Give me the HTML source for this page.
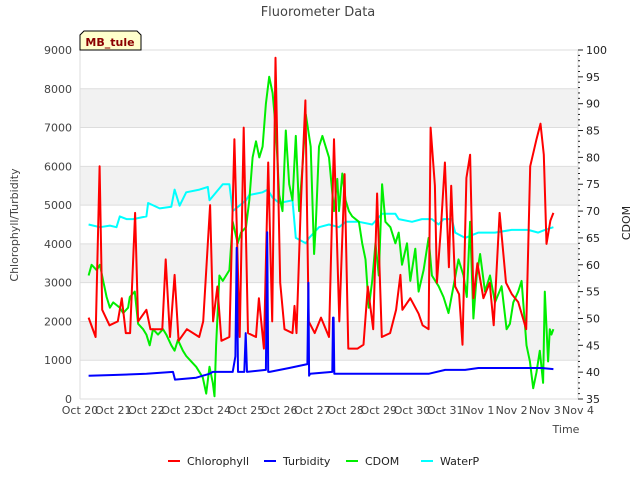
<!DOCTYPE html>
<html><head><meta charset="utf-8"><style>
body{margin:0;background:#fff;font-family:"Liberation Sans","DejaVu Sans",sans-serif}
svg text{font-family:"DejaVu Sans","Liberation Sans",sans-serif}
</style></head><body>
<svg id="c" width="640" height="480">
<text x="318" y="16" text-anchor="middle" font-size="13" fill="#444">Fluorometer Data</text>
<g id="bands"></g><g id="grid"></g><g id="axes"></g><g id="series"></g>
<g><path d="M80,50 L80,35 L84,31 L137,31 L141,35 L141,50 Z" fill="#ffffcc" stroke="#000"/><text x="110" y="46" text-anchor="middle" font-size="11" font-weight="bold" fill="#8b0000">MB_tule</text></g>
<text transform="translate(18,225) rotate(-90)" text-anchor="middle" font-size="11" fill="#444">Chlorophyll/Turbidity</text>
<text transform="translate(630,223) rotate(-90)" text-anchor="middle" font-size="11" fill="#222">CDOM</text>
<text x="566" y="433" text-anchor="middle" font-size="11" fill="#444">Time</text>
<g id="legend"></g>
</svg>
<script>
const dayLabels=["Oct 20","Oct 21","Oct 22","Oct 23","Oct 24","Oct 25","Oct 26","Oct 27","Oct 28","Oct 29","Oct 30","Oct 31","Nov 1","Nov 2","Nov 3","Nov 4"];
const leftTicks=[0,1000,2000,3000,4000,5000,6000,7000,8000,9000];
const rightTicks=[35,40,45,50,55,60,65,70,75,80,85,90,95,100];
const chlT=[0.26,0.47,0.59,0.67,0.89,1.14,1.26,1.38,1.51,1.66,1.75,2.0,2.12,2.48,2.58,2.71,2.85,2.97,3.22,3.59,3.71,3.92,4.01,4.14,4.26,4.5,4.65,4.81,4.93,5.06,5.3,5.39,5.54,5.67,5.79,5.89,6.03,6.16,6.4,6.46,6.52,6.65,6.79,6.89,7.07,7.26,7.5,7.65,7.81,7.97,8.08,8.36,8.54,8.67,8.83,8.95,9.09,9.34,9.52,9.65,9.71,9.95,10.2,10.32,10.5,10.56,10.69,10.75,10.87,10.99,11.11,11.18,11.3,11.42,11.52,11.64,11.75,11.85,11.97,12.15,12.34,12.46,12.64,12.83,13.01,13.2,13.44,13.56,13.75,13.87,13.97,14.05,14.17,14.26];
const chlV=[2100,1600,6000,2300,1900,2000,2600,1700,1700,4800,2000,2300,1800,1800,3600,1600,3200,1500,1800,1600,2000,5000,2000,2900,1500,1600,6700,1600,7000,1700,1600,2600,1300,6100,2000,8800,3000,1800,1700,2400,1700,5000,7700,2000,1700,2100,1600,6700,2000,5800,1300,1300,1400,2900,1800,5300,1600,1700,2300,3200,2300,2600,2200,1900,1800,7000,5500,3000,4400,6100,3400,5500,2900,2700,1400,5700,6300,2600,3500,2600,3000,1900,4800,3000,2700,2500,1800,6000,6700,7100,6300,4000,4600,4800];
const turT=[0.26,1.0,2.0,2.8,2.86,3.5,3.7,3.9,4.0,4.6,4.68,4.72,4.76,4.95,4.99,5.03,5.6,5.64,5.67,5.71,6.3,6.85,6.88,6.9,6.93,7.6,7.62,7.64,7.66,8.5,9.5,10.5,11.0,11.6,12.0,12.6,13.5,13.9,14.26];
const turV=[600,620,650,700,500,550,600,650,700,700,1100,3900,700,700,1700,700,750,4300,700,700,800,900,3000,600,650,700,2100,2100,650,650,650,650,750,750,800,800,800,800,770];
const cdT=[0.26,0.35,0.5,0.6,0.7,0.8,0.9,1.0,1.2,1.3,1.45,1.5,1.65,1.75,1.9,2.0,2.1,2.2,2.35,2.5,2.6,2.75,2.85,2.95,3.1,3.2,3.35,3.5,3.7,3.8,3.9,4.0,4.05,4.1,4.2,4.3,4.5,4.6,4.75,4.85,5.0,5.1,5.2,5.3,5.4,5.5,5.6,5.7,5.8,5.9,6.0,6.1,6.2,6.3,6.4,6.5,6.6,6.7,6.8,6.95,7.05,7.1,7.2,7.3,7.5,7.65,7.75,7.8,7.9,8.0,8.1,8.2,8.4,8.5,8.6,8.7,8.8,8.9,9.0,9.1,9.2,9.35,9.5,9.6,9.7,9.85,9.95,10.1,10.2,10.35,10.5,10.6,10.8,10.95,11.1,11.25,11.4,11.55,11.65,11.75,11.85,11.95,12.05,12.2,12.35,12.5,12.7,12.85,12.95,13.05,13.2,13.3,13.45,13.55,13.65,13.75,13.85,13.95,14.0,14.1,14.15,14.2,14.26];
const cdV=[58,60,59,60,57,54,52,53,52,51,52,54,55,49,48,47,45,48,47,48,47,45,44,46,44,43,42,41,39,36,41,38,35.5,45,58,57,59,68,64,66,67,72,80,83,80,82,90,95,92,85,73,70,85,75,72,84,70,78,88,82,62,67,82,84,80,70,76,70,77,72,70,69,68,64,61,52,57,64,58,75,68,67,64,66,60,64,57,63,55,59,65,58,56,54,51,56,61,58,54,68,50,58,62,55,58,53,56,48,49,53,55,57,45,42,37,40,44,38,55,42,48,47,48];
const wpT=[0.26,0.6,0.9,1.1,1.2,1.4,1.6,2.0,2.05,2.4,2.75,2.85,3.0,3.2,3.6,3.85,3.9,4.3,4.5,4.6,5.0,5.1,5.5,5.65,5.8,6.0,6.4,6.5,6.8,6.9,7.2,7.5,7.8,8.0,8.4,8.8,9.1,9.5,9.6,10.0,10.3,10.6,10.8,10.95,11.2,11.3,11.6,11.8,12.0,12.5,13.0,13.5,13.8,14.0,14.26];
const wpV=[67.5,67,67.3,67,69,68.5,68.5,69,71.5,70.5,70.8,74,71,73.5,74,74.5,72,75,75,70,72,73,73.5,74,72.5,71.5,72,65,64,65,67,67.5,67,68,68,67.5,69.5,69.5,68.5,68,68.5,68.5,67.5,68.5,68.5,66,65,65.5,66,66,66.5,66.5,66,66.5,67];
const NS="http://www.w3.org/2000/svg";
const X0=80,X1=578,Y0=399,Y1=50;
const xs=d=>X0+d*(X1-X0)/15;
const yl=v=>Y0-v*(Y0-Y1)/9000;
const yr=v=>Y0-(v-35)*(Y0-Y1)/65;
function mk(tag,attrs,parent){const e=document.createElementNS(NS,tag);for(const k in attrs)e.setAttribute(k,attrs[k]);document.getElementById(parent).appendChild(e);return e;}
for(let i=1;i<9;i+=2){const r=mk('rect',{x:X0,y:yl(i+1)*1===0?0:yl((i+1)*1000),width:X1-X0,height:yl(i*1000)-yl((i+1)*1000),fill:'#f2f2f2'},'bands');

}
leftTicks.forEach(v=>{const l=mk('line',{x1:X0,x2:X1,y1:yl(v),y2:yl(v),stroke:'#ddd'},'grid');


const t=mk('text',{x:72,y:yl(v)+4,'text-anchor':'end','font-size':11,fill:'#444'},'axes');t.textContent=v;

});
mk('line',{x1:X0,x2:X0,y1:Y1,y2:Y0,stroke:'#ddd'},'grid');
mk('line',{x1:X1,x2:X1,y1:Y1,y2:Y0,stroke:'#ddd'},'grid');
for(let v=35;v<=100;v++){mk('line',{x1:X1,x2:X1+(v%5===0?5:2),y1:yr(v),y2:yr(v),stroke:'#222'},'axes');}
rightTicks.forEach(v=>{const t=mk('text',{x:586,y:yr(v)+4,'font-size':11,fill:'#222'},'axes');t.textContent=v;

});
dayLabels.forEach((s,i)=>{const t=mk('text',{x:xs(i),y:414,'text-anchor':'middle','font-size':11,fill:'#444'},'axes');t.textContent=s;

});
function line(T,V,fy,col,name){const p=mk('polyline',{points:T.map((t,i)=>xs(t).toFixed(1)+','+fy(V[i]).toFixed(1)).join(' '),fill:'none',stroke:col,'stroke-width':2,'stroke-linejoin':'round'},'series');

}
line(wpT,wpV,yr,'#00ffff','waterp-line');
line(cdT,cdV,yr,'#00ee00','cdom-line');
line(chlT,chlV,yl,'#ff0000','chlorophyll-line');
line(turT,turV,yl,'#0000ff','turbidity-line');
const leg=[["Chlorophyll","#ff0000",168],["Turbidity","#0000ff",264],["CDOM","#00ee00",346],["WaterP","#00ffff",421]];
leg.forEach(([n,c,x])=>{const g=mk('g',{},'legend');


const l=document.createElementNS(NS,'line');l.setAttribute('x1',x);l.setAttribute('x2',x+12);l.setAttribute('y1',461);l.setAttribute('y2',461);l.setAttribute('stroke',c);l.setAttribute('stroke-width',2);g.appendChild(l);
const t=document.createElementNS(NS,'text');t.setAttribute('x',x+19);t.setAttribute('y',465);t.setAttribute('font-size',11);t.setAttribute('fill','#222');t.textContent=n;g.appendChild(t);});
</script>
</body></html>
